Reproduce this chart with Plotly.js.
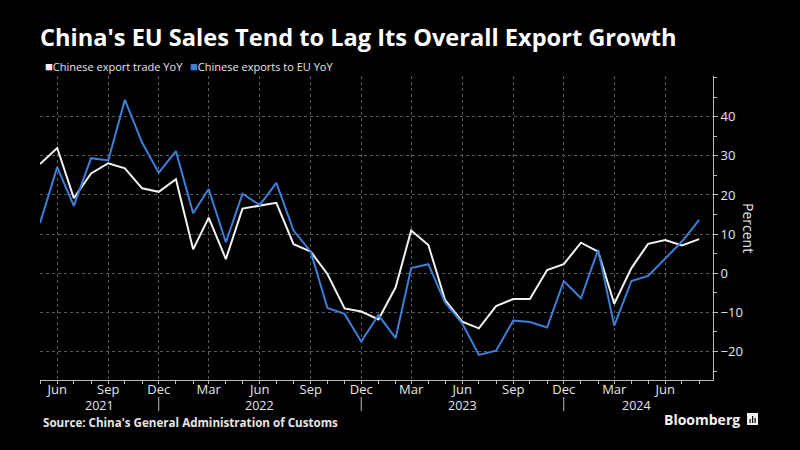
<!DOCTYPE html>
<html>
<head>
<meta charset="utf-8">
<script src="https://cdn.plot.ly/plotly-3.0.1.min.js"></script>
<style>
  html, body { margin: 0; padding: 0; background: #000; }
  #chart { width: 800px; height: 450px; }
</style>
</head>
<body>
<div id="chart"></div>
<script>
// ---- Data ----
var months = [
  '2021-05-01','2021-06-01','2021-07-01','2021-08-01','2021-09-01','2021-10-01','2021-11-01','2021-12-01',
  '2022-01-01','2022-02-01','2022-03-01','2022-04-01','2022-05-01','2022-06-01','2022-07-01','2022-08-01',
  '2022-09-01','2022-10-01','2022-11-01','2022-12-01',
  '2023-01-01','2023-02-01','2023-03-01','2023-04-01','2023-05-01','2023-06-01','2023-07-01','2023-08-01',
  '2023-09-01','2023-10-01','2023-11-01','2023-12-01',
  '2024-01-01','2024-02-01','2024-03-01','2024-04-01','2024-05-01','2024-06-01','2024-07-01','2024-08-01'
];
var exportTradeYoY = [
  27.9, 32.0, 19.2, 25.5, 28.1, 26.8, 21.7, 20.8,
  24.0, 6.1, 14.2, 3.6, 16.5, 17.2, 18.0, 7.4,
  5.5, -0.2, -9.0, -9.8,
  -11.8, -3.6, 10.9, 7.2, -6.8, -12.4, -14.1, -8.4,
  -6.6, -6.6, 0.8, 2.3,
  7.8, 5.5, -7.8, 1.3, 7.5, 8.5, 7.1, 8.7
];
var exportsToEUYoY = [
  12.8, 27.1, 17.2, 29.4, 28.8, 44.3, 33.4, 25.7,
  31.2, 15.3, 21.5, 7.9, 20.3, 17.4, 23.1, 10.9,
  5.5, -8.9, -10.4, -17.5,
  -10.7, -16.6, 1.3, 2.3, -7.5, -12.8, -20.9, -19.8,
  -12.1, -12.5, -13.9, -2.0,
  -6.4, 6.0, -13.4, -2.0, -0.7, 3.8, 8.1, 13.6
];
var seriesNames = ['Chinese export trade YoY', 'Chinese exports to EU YoY'];
var seriesColors = ['#f2f2f2', '#3d7fd9'];
var yTickVals = [-20, -10, 0, 10, 20, 30, 40];
var yearLabels = ['2021', '2022', '2023', '2024'];
var yearLabelPos = ['2021-08-16', '2022-06-01', '2023-06-01', '2024-04-10'];
var yearDividers = ['2021-12-01', '2022-12-01', '2023-12-01'];

// ---- Layout helpers (pixel -> paper) ----
var L = 40, R = 713, T = 76, B = 380;
function px(x) { return (x - L) / (R - L); }
function py(y) { return (B - y) / (B - T); }

var FONT = 'Open Sans, Noto Sans, sans-serif';

var traces = [
  { x: months, y: exportTradeYoY, name: seriesNames[0], type: 'scatter', mode: 'lines',
    line: { color: seriesColors[0], width: 2 } },
  { x: months, y: exportsToEUYoY, name: seriesNames[1], type: 'scatter', mode: 'lines',
    line: { color: seriesColors[1], width: 2 } }
];

function legendText(i) {
  return '<span style="color:' + seriesColors[i] + ';font-size:13px">■</span>' + seriesNames[i];
}

var annotations = [
  { xref: 'paper', yref: 'paper', x: px(43), y: py(66), xanchor: 'left', yanchor: 'middle',
    text: legendText(0), showarrow: false, font: { family: FONT, size: 11, color: '#e6e6e6' } },
  { xref: 'paper', yref: 'paper', x: px(188), y: py(66), xanchor: 'left', yanchor: 'middle',
    text: legendText(1), showarrow: false, font: { family: FONT, size: 11, color: '#e6e6e6' } },
  { xref: 'paper', yref: 'paper', x: px(749), y: py(228), xanchor: 'center', yanchor: 'middle',
    text: 'Percent', textangle: 90, showarrow: false,
    font: { family: FONT, size: 14, color: '#e6e6e6' } },
  { xref: 'paper', yref: 'paper', x: px(42), y: py(422), xanchor: 'left', yanchor: 'middle',
    text: "<b>Source: China's General Administration of Customs</b>", showarrow: false, borderpad: 0,
    font: { family: FONT, size: 11.6, color: '#e6e6e6' } },
  { xref: 'paper', yref: 'paper', x: px(742), y: py(419), xanchor: 'right', yanchor: 'middle',
    text: '<b>Bloomberg</b>', showarrow: false,
    font: { family: FONT, size: 14, color: '#f2f2f2' } }
];
yearLabels.forEach(function (lab, i) {
  annotations.push({ xref: 'x', yref: 'paper', x: yearLabelPos[i], y: py(405),
    xanchor: 'center', yanchor: 'middle', text: lab, showarrow: false, borderpad: 0,
    font: { family: FONT, size: 12.5, color: '#e6e6e6' } });
});

var shapes = [];
yearDividers.forEach(function (d) {
  shapes.push({ type: 'line', xref: 'x', yref: 'paper', x0: d, x1: d, y0: py(397), y1: py(411),
    line: { color: '#bbbbbb', width: 1 } });
});
// Bloomberg logo glyph
shapes.push({ type: 'rect', xref: 'paper', yref: 'paper', x0: px(747), x1: px(758), y0: py(425), y1: py(413),
  fillcolor: '#f2f2f2', line: { width: 0 } });
[749.5, 752, 754.5].forEach(function (bx, k) {
  var tops = [419, 416, 418];
  shapes.push({ type: 'rect', xref: 'paper', yref: 'paper', x0: px(bx), x1: px(bx + 1.2),
    y0: py(423), y1: py(tops[k]), fillcolor: '#000', line: { width: 0 } });
});

var layout = {
  width: 800, height: 450,
  paper_bgcolor: '#000', plot_bgcolor: '#000',
  margin: { l: L, r: 800 - R, t: T, b: 450 - B, pad: 0 },
  showlegend: false,
  title: { text: "<b>China's EU Sales Tend to Lag Its Overall Export Growth</b>",
    x: 40 / 800, xanchor: 'left', xref: 'container',
    y: 1 - 38 / 450, yanchor: 'middle', yref: 'container',
    font: { family: FONT, size: 23.6, color: '#ffffff' } },
  xaxis: {
    type: 'date', range: ['2021-05-01', '2024-08-26'],
    tick0: '2021-06-01', dtick: 'M3', tickformat: '%b',
    ticks: 'outside', ticklen: 3, tickcolor: '#bbbbbb', tickwidth: 1,
    ticklabelstandoff: -6,
    showline: true, linecolor: '#bbbbbb', linewidth: 1,
    showgrid: true, gridcolor: '#5a5a5a', griddash: 'dot', gridwidth: 1,
    minor: { dtick: 'M1', tick0: '2021-06-01', ticks: 'outside', ticklen: 3, tickcolor: '#bbbbbb', showgrid: false },
    tickfont: { family: FONT, size: 13, color: '#e6e6e6' },
    zeroline: false, fixedrange: true
  },
  yaxis: {
    side: 'right', range: [-27.3, 50.4],
    tickmode: 'array', tickvals: yTickVals,
    ticks: 'outside', ticklen: 4, tickcolor: '#bbbbbb', tickwidth: 1,
    showline: true, linecolor: '#bbbbbb', linewidth: 1,
    showgrid: true, gridcolor: '#5a5a5a', griddash: 'dot', gridwidth: 1,
    minor: { tickmode: 'linear', tick0: 0, dtick: 5, ticks: 'outside', ticklen: 3, tickcolor: '#bbbbbb', showgrid: false },
    tickfont: { family: FONT, size: 13, color: '#e6e6e6' },
    zeroline: false, fixedrange: true
  },
  annotations: annotations,
  shapes: shapes
};

Plotly.newPlot('chart', traces, layout, { staticPlot: true, displayModeBar: false });
</script>
</body>
</html>
